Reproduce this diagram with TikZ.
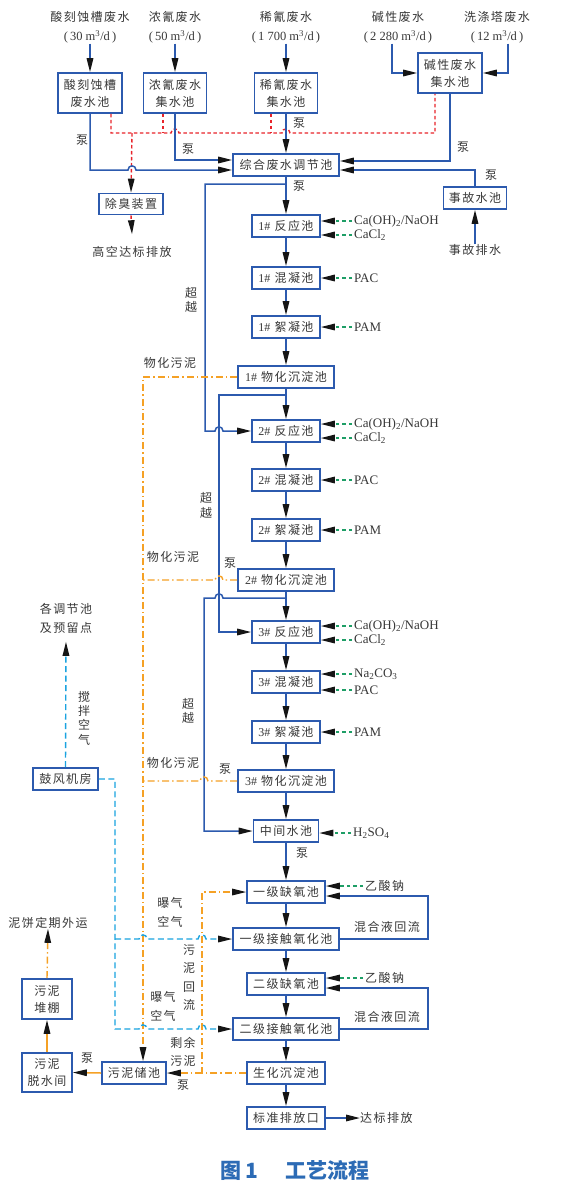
\documentclass[tikz,border=0pt]{standalone}
\usepackage{fontspec}
\setmainfont{Liberation Serif}
\newfontfamily\cjk[LetterSpace=12]{Noto Sans CJK SC}
\newfontfamily\capfont{Noto Sans CJK SC}
\usetikzlibrary{arrows.meta}
\definecolor{bblue}{HTML}{2C5AAE}
\definecolor{tgray}{HTML}{383838}
\definecolor{cred}{HTML}{E8242B}
\definecolor{corange}{HTML}{F5A125}
\definecolor{ccyan}{HTML}{1AA3E0}
\definecolor{cgreen}{HTML}{1E9E66}
\definecolor{capblue}{HTML}{2C6BB5}
\definecolor{tipc}{HTML}{151515}
\newcommand\lat[1]{{\rmfamily #1}}
\newcommand\flow[1]{{\rmfamily\fontsize{12.5}{19}\selectfont (\,#1 m\textsuperscript{3}/d\,)}}
\tikzset{
  box/.style={draw=bblue,line width=1.6pt,fill=white,inner sep=0pt,minimum height=22pt,
    align=center,text=tgray,font=\cjk\fontsize{12}{17}\selectfont},
  lbl/.style={inner sep=0pt,align=center,text=tgray,font=\cjk\fontsize{12}{17}\selectfont},
  toplbl/.style={inner sep=0pt,align=center,text=tgray,font=\cjk\fontsize{12}{19}\selectfont},
  vlbl/.style={inner sep=0pt,align=center,text=tgray,font=\cjk\fontsize{12}{14.3}\selectfont},
  rgt/.style={inner sep=0pt,anchor=west,text=tgray,font=\fontsize{13}{14}\selectfont},
  arr/.style={-{Triangle[length=14pt,width=6.5pt,color=tipc]}},
  bl/.style={draw=bblue,line width=1.5pt},
  rd/.style={draw=cred,line width=1.4pt,dash pattern=on 3.5pt off 2.5pt},
  og/.style={draw=corange,line width=1.4pt,dash pattern=on 7pt off 3pt on 1.5pt off 3pt},
  osol/.style={draw=corange,line width=1.5pt},
  cy/.style={draw=ccyan,line width=1.4pt,dash pattern=on 6pt off 3.5pt},
  gn/.style={draw=cgreen,line width=1.4pt,dash pattern=on 3.5pt off 3pt},
}
\begin{document}
\begin{tikzpicture}[x=1pt,y=-1pt]
\fill[white] (0,0) rectangle (562,1191);
\useasboundingbox (0,0) rectangle (562,1191);

% ---------- top sources ----------
\node[toplbl] (t1) at (90,27.5) {酸刻蚀槽废水\\\flow{30}};
\node[toplbl] (t2) at (175,27.5) {浓氰废水\\\flow{50}};
\node[toplbl] (t3) at (286,27.5) {稀氰废水\\\flow{1 700}};
\node[toplbl] (t4) at (398,27.5) {碱性废水\\\flow{2 280}};
\node[toplbl] (t5) at (497,27.5) {洗涤塔废水\\\flow{12}};

\node[box,minimum width=64pt,minimum height=40pt] (b1) at (90,93) {酸刻蚀槽\\废水池};
\node[box,minimum width=63pt,minimum height=40pt] (b2) at (175,93) {浓氰废水\\集水池};
\node[box,minimum width=63pt,minimum height=40pt] (b3) at (286,93) {稀氰废水\\集水池};
\node[box,minimum width=64pt,minimum height=40pt] (b4) at (450,73) {碱性废水\\集水池};

\node[box,minimum width=106pt] (zh) at (286,165) {综合废水调节池};
\node[box,minimum width=63pt] (sg) at (475,198) {事故水池};
\node[lbl] (ev) at (475,250) {事故排水};
\node[box,minimum width=64pt,minimum height=21pt] (cx) at (131,204) {除臭装置};
\node[lbl] (gk) at (132,252) {高空达标排放};

% ---------- main chain ----------
\node[box,minimum width=68pt] (r1) at (286,226) {\lat{1\#} 反应池};
\node[box,minimum width=68pt] (h1) at (286,278) {\lat{1\#} 混凝池};
\node[box,minimum width=68pt] (x1) at (286,327) {\lat{1\#} 絮凝池};
\node[box,minimum width=96pt] (c1) at (286,377) {\lat{1\#} 物化沉淀池};
\node[box,minimum width=68pt] (r2) at (286,431) {\lat{2\#} 反应池};
\node[box,minimum width=68pt] (h2) at (286,480) {\lat{2\#} 混凝池};
\node[box,minimum width=68pt] (x2) at (286,530) {\lat{2\#} 絮凝池};
\node[box,minimum width=96pt] (c2) at (286,580) {\lat{2\#} 物化沉淀池};
\node[box,minimum width=68pt] (r3) at (286,632) {\lat{3\#} 反应池};
\node[box,minimum width=68pt] (h3) at (286,682) {\lat{3\#} 混凝池};
\node[box,minimum width=68pt] (x3) at (286,732) {\lat{3\#} 絮凝池};
\node[box,minimum width=96pt] (c3) at (286,781) {\lat{3\#} 物化沉淀池};
\node[box,minimum width=65pt] (zj) at (286,831) {中间水池};
\node[box,minimum width=78pt] (q1) at (286,892) {一级缺氧池};
\node[box,minimum width=106pt] (o1) at (286,939) {一级接触氧化池};
\node[box,minimum width=78pt] (q2) at (286,984) {二级缺氧池};
\node[box,minimum width=106pt] (o2) at (286,1029) {二级接触氧化池};
\node[box,minimum width=78pt] (sh) at (286,1073) {生化沉淀池};
\node[box,minimum width=78pt] (bz) at (286,1118) {标准排放口};
\node[lbl,anchor=west] (db) at (360,1118) {达标排放};

% ---------- left side ----------
\node[box,minimum width=65pt] (fj) at (65.5,779) {鼓风机房};
\node[toplbl] (gt) at (66,618.5) {各调节池\\及预留点};
\node[vlbl] (jb) at (84,718) {搅\\拌\\空\\气};
\node[box,minimum width=64pt] (wn) at (134,1073) {污泥储池};
\node[box,minimum width=50pt,minimum height=39pt] (ts) at (47,1072.5) {污泥\\脱水间};
\node[box,minimum width=50pt,minimum height=40pt] (dp) at (47,999) {污泥\\堆棚};
\node[lbl] (nb) at (48,923) {泥饼定期外运};

% ---------- reagents ----------
\node[rgt] (ra1) at (354,221) {Ca(OH)\textsubscript{2}/NaOH};
\node[rgt] (rb1) at (354,235) {CaCl\textsubscript{2}};
\node[rgt] (rp1) at (354,278) {PAC};
\node[rgt] (rm1) at (354,327) {PAM};
\node[rgt] (ra2) at (354,424) {Ca(OH)\textsubscript{2}/NaOH};
\node[rgt] (rb2) at (354,438) {CaCl\textsubscript{2}};
\node[rgt] (rp2) at (354,480) {PAC};
\node[rgt] (rm2) at (354,530) {PAM};
\node[rgt] (ra3) at (354,626) {Ca(OH)\textsubscript{2}/NaOH};
\node[rgt] (rb3) at (354,640) {CaCl\textsubscript{2}};
\node[rgt] (rn3) at (354,674) {Na\textsubscript{2}CO\textsubscript{3}};
\node[rgt] (rp3) at (354,690) {PAC};
\node[rgt] (rm3) at (354,732) {PAM};
\node[rgt] (rh) at (353,833) {H\textsubscript{2}SO\textsubscript{4}};
\node[lbl,anchor=west] (ys1) at (365,886) {乙酸钠};
\node[lbl,anchor=west] (ys2) at (365,978) {乙酸钠};

\foreach \t/\b in {ra1/r1,rb1/r1,rp1/h1,rm1/x1,ra2/r2,rb2/r2,rp2/h2,rm2/x2,ra3/r3,rb3/r3,rn3/h3,rp3/h3,rm3/x3,rh/zj,ys1/q1,ys2/q2}
  \draw[gn,arr] ([xshift=-2pt]\t.west) -- (\t.west -| \b.east);

% ---------- small labels ----------
\node[lbl] (p1) at (82,140) {泵};
\node[lbl] (p2) at (188,149) {泵};
\node[lbl] (p3) at (299,123) {泵};
\node[lbl] (p4) at (463,147) {泵};
\node[lbl] (p5) at (491,175) {泵};
\node[lbl] (p6) at (299,186) {泵};
\node[lbl] (p7) at (230,563) {泵};
\node[lbl] (p8) at (225,769) {泵};
\node[lbl] (p9) at (302,853) {泵};
\node[lbl] (p10) at (87,1058) {泵};
\node[lbl] (p11) at (183,1085) {泵};
\node[vlbl] (cy1) at (191,300) {超\\越};
\node[vlbl] (cy2) at (206,505.5) {超\\越};
\node[vlbl] (cy3) at (188,711) {超\\越};
\node[lbl] (wh1) at (170,363) {物化污泥};
\node[lbl] (wh2) at (173,557) {物化污泥};
\node[lbl] (wh3) at (173,763) {物化污泥};
\node[toplbl] (bq1) at (170,912.5) {曝气\\空气};
\node[toplbl] (bq2) at (163,1006) {曝气\\空气};
\node[vlbl,font=\cjk\fontsize{12}{18.3}\selectfont] (wr) at (189,977.5) {污\\泥\\回\\流};
\node[vlbl,font=\cjk\fontsize{12}{18}\selectfont] (sy) at (183,1052) {剩余\\污泥};
\node[lbl] (hh1) at (387,927) {混合液回流};
\node[lbl] (hh2) at (387,1017) {混合液回流};

% ---------- top connections ----------
\draw[bl,arr] (t1.south) -- (b1.north);
\draw[bl,arr] (t2.south) -- (b2.north);
\draw[bl,arr] (t3.south) -- (b3.north);
\draw[bl,arr] ([xshift=-6pt]t4.south) |- (b4.west);
\draw[bl,arr] ([xshift=11pt]t5.south) |- (b4.east);

% red odour collection
\coordinate (rj) at (132,133);
\draw[rd] ([xshift=21pt]b1.south) -- (111,133) -- (171,133)
  .. controls (171,127.5) and (179,127.5) .. (179,133) -- (282,133)
  .. controls (282,127.5) and (290,127.5) .. (290,133) -- (435,133) -- ([xshift=-15pt]b4.south);
\draw[rd] ([xshift=-12pt]b2.south) -- (163,133);
\draw[rd] ([xshift=-15pt]b3.south) -- (271,133);
\draw[rd,arr] (rj) -- (cx.north);
\draw[rd,arr] (cx.south) -- ([yshift=12pt]gk.north);

% blue to equalisation tank
\draw[bl,arr] (b1.south) -- (90,170) -- (128,170)
  .. controls (128,164.5) and (136,164.5) .. (136,170) -- ([yshift=-5pt]zh.west);
\draw[bl,arr] (b2.south) |- ([yshift=5pt]zh.west);
\draw[bl,arr] (b3.south) -- (zh.north);
\draw[bl,arr] (b4.south) |- ([yshift=4pt]zh.east);
\draw[bl,arr] (sg.north) |- ([yshift=-5pt]zh.east);
\draw[bl,arr] (ev.north) -- (sg.south);

% ---------- trunk ----------
\foreach \a/\b in {zh/r1,r1/h1,h1/x1,x1/c1,c1/r2,r2/h2,h2/x2,x2/c2,c2/r3,r3/h3,h3/x3,x3/c3,c3/zj,zj/q1,q1/o1,o1/q2,q2/o2,o2/sh,sh/bz}
  \draw[bl,arr] (\a.south) -- (\b.north);
\draw[bl,arr] (bz.east) -- (db.west);

% bypasses
\coordinate (j1) at (286,184);
\coordinate (j2) at (286,395);
\coordinate (j3) at (286,598);
\draw[bl,arr] (j1) -- (205,184) -- (205,431) -- (215,431)
  .. controls (215,425.5) and (223,425.5) .. (223,431) -- (r2.west);
\draw[bl,arr] (j2) -- (219,395) -- (219,632) -- (r3.west);
\draw[bl,arr] (j3) -- (223,598) .. controls (223,592.5) and (215,592.5) .. (215,598)
  -- (204,598) -- (204,831) -- (zj.west);

% sludge (orange)
\draw[og,arr] (c1.west) -- (143,377) -- ([xshift=9pt]wn.north);
\draw[og] (c2.west) -- (223,580) .. controls (223,574.5) and (215,574.5) .. (215,580) -- (143,580);
\draw[og] (c3.west) -- (208,781) .. controls (208,775.5) and (200,775.5) .. (200,781) -- (143,781);
\coordinate (sj) at (202,1073);
\draw[og,arr] (sh.west) -- (sj) -- (202,892) -- (q1.west);
\draw[og,arr] (sj) -- (wn.east);
\draw[osol,arr] (wn.west) -- (ts.east);
\draw[osol,arr] (ts.north) -- (dp.south);
\draw[og,arr] (dp.north) -- (nb.south);

% air (cyan)
\draw[cy,arr] (fj.north) -- ([yshift=-8pt]gt.south);
\draw[cy,arr] (fj.east) -- (115,779) -- (115,1029) -- (139,1029)
  .. controls (139,1023.5) and (147,1023.5) .. (147,1029) -- (198,1029)
  .. controls (198,1023.5) and (206,1023.5) .. (206,1029) -- (o2.west);
\draw[cy,arr] (115,939) -- (139,939)
  .. controls (139,933.5) and (147,933.5) .. (147,939) -- (198,939)
  .. controls (198,933.5) and (206,933.5) .. (206,939) -- (o1.west);

% mixed liquor return
\coordinate (m1) at (428,896);
\coordinate (m2) at (428,988);
\draw[bl,arr] (o1.east) -- (o1.east -| m1) -- (m1) -- (m1 -| q1.east);
\draw[bl,arr] (o2.east) -- (o2.east -| m2) -- (m2) -- (m2 -| q2.east);

% caption
\node[text=capblue,inner sep=0pt,font=\capfont\bfseries\fontsize{21}{24}\selectfont] (cap) at (295,1170) {图\,1\hspace{1.3em}工艺流程};
\end{tikzpicture}
\end{document}
